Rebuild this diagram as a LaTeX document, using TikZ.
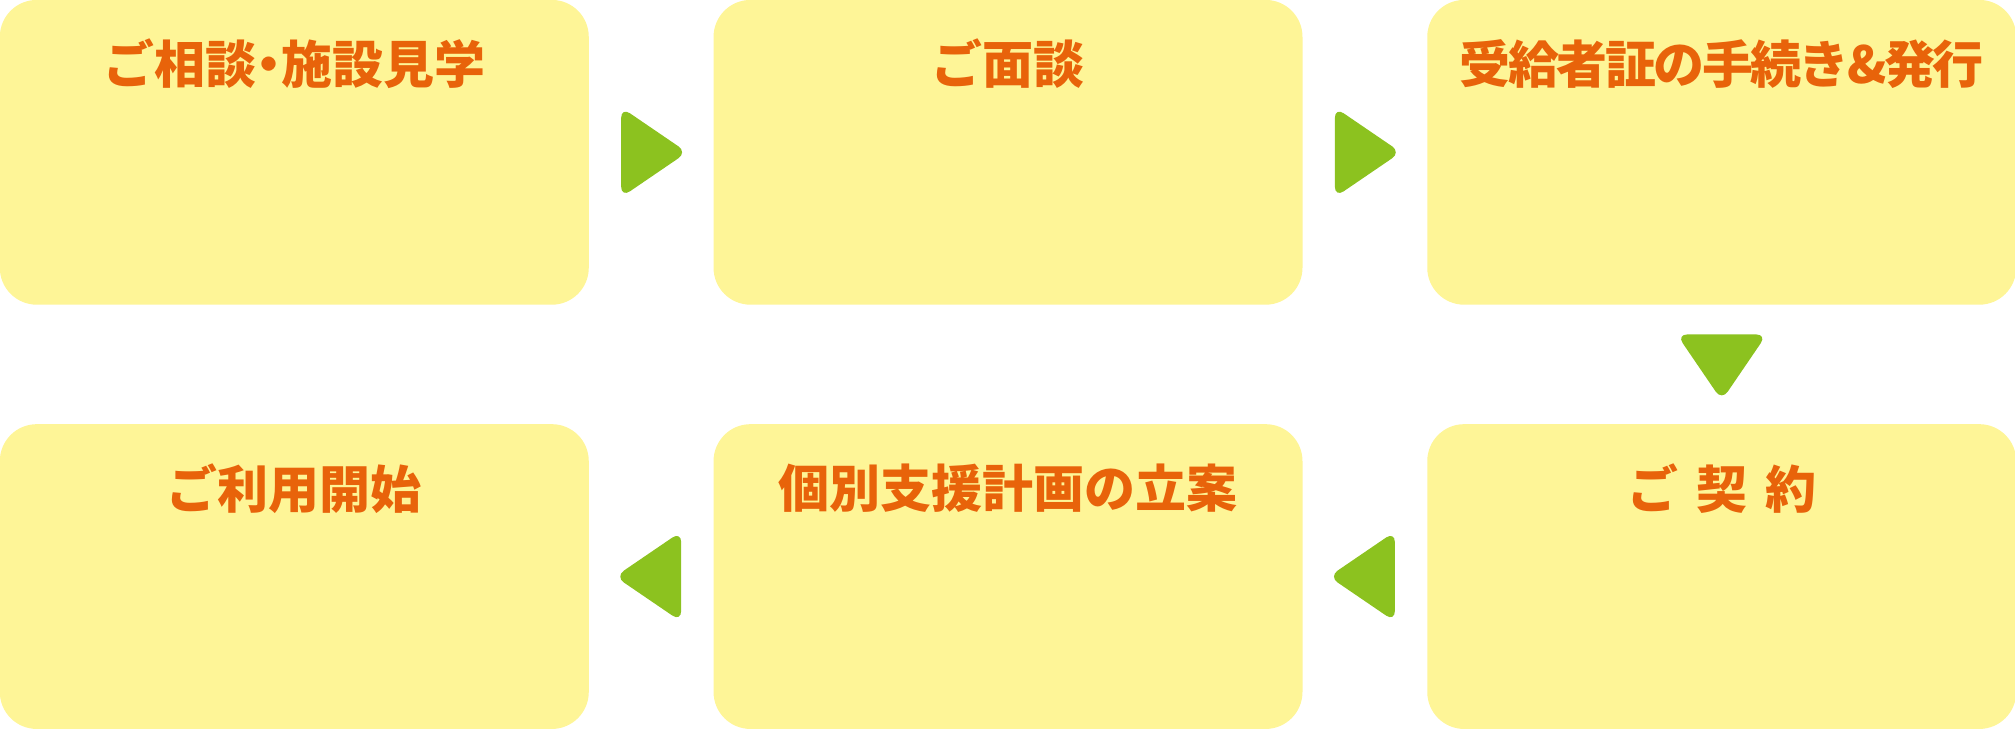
\documentclass[tikz,border=0pt]{standalone}
\usepackage{fontspec}
\newfontfamily\jpfont{Noto Sans CJK JP}
\usetikzlibrary{positioning,calc}
\definecolor{kiiro}{HTML}{FEF597}
\definecolor{daidai}{HTML}{E8630A}
\definecolor{midori}{HTML}{8CC21F}
\tikzset{
  hako/.style={fill=kiiro, rounded corners=10.5pt, minimum width=5.886cm, minimum height=3.046cm, inner sep=0pt, outer sep=0pt},
  midashi/.style={text=daidai, font=\jpfont\bfseries\fontsize{14.5}{17}\selectfont, inner sep=0pt},
  yajirushi/.style={fill=midori, rounded corners=3pt}
}
\begin{document}
\begin{tikzpicture}[x=0.01cm, y=-0.01cm]
\useasboundingbox (0,0) rectangle (2015,730);

% 上の段
\node[hako] (b1) at (294.3,152.3) {};
\node[hako, right=1.247cm of b1] (b2) {};
\node[hako, right=1.247cm of b2] (b3) {};

% 下の段
\node[hako, below=1.194cm of b3] (b6) {};
\node[hako, left=1.247cm of b6] (b5) {};
\node[hako, left=1.247cm of b5] (b4) {};

% 見出し
\node[midashi] (t1) at ([yshift=-0.64cm]b1.north) {ご相談\kern-0.25em・\kern-0.25em施設見学};
\node[midashi] (t2) at ([yshift=-0.64cm]b2.north) {ご面談};
\node[midashi] (t3) at ([yshift=-0.64cm]b3.north) {\addfontfeature{LetterSpace=-5}受給者証の手続き\&発行};
\node[midashi] (t6) at ([yshift=-0.64cm]b6.north) {ご\hspace{0.35em}契\hspace{0.35em}約};
\node[midashi] (t5) at ([yshift=-0.64cm]b5.north) {個別支援計画の立案};
\node[midashi] (t4) at ([yshift=-0.64cm]b4.north) {ご利用開始};

% 矢印の位置
\coordinate (a12) at ($(b1.east)!0.5!(b2.west)$);
\coordinate (a23) at ($(b2.east)!0.5!(b3.west)$);
\coordinate (a36) at ($(b3.south)!0.5!(b6.north)$);
\coordinate (a65) at ($(b6.west)!0.5!(b5.east)$);
\coordinate (a54) at ($(b5.west)!0.5!(b4.east)$);

% 矢印
\fill[yajirushi, shift={(a12)}] (-30,-45) -- (36,0) -- (-30,45) -- cycle;
\fill[yajirushi, shift={(a23)}] (-30,-45) -- (36,0) -- (-30,45) -- cycle;
\fill[yajirushi, shift={(a36)}] (-45,-30) -- (0,36) -- (45,-30) -- cycle;
\fill[yajirushi, shift={(a65)}] (30,-45) -- (-36,0) -- (30,45) -- cycle;
\fill[yajirushi, shift={(a54)}] (30,-45) -- (-36,0) -- (30,45) -- cycle;
\end{tikzpicture}
\end{document}
